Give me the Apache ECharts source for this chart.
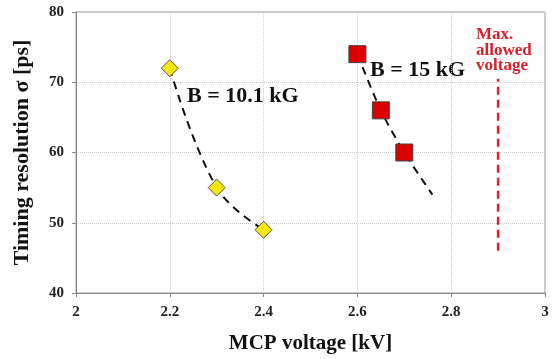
<!DOCTYPE html>
<html>
<head>
    <meta charset="utf-8">
    <title>MCP timing resolution</title>
    <script src="https://cdn.jsdelivr.net/npm/echarts@6/dist/echarts.min.js"></script>
</head>
<body style="margin: 0;height:100%;">
<div id="main" style="width: 556px;height: 359px;"></div>
<script type="text/javascript">
    // measured points
    var voltsLow = [2.2, 2.3, 2.4];
    var sigmaLow = [72, 55, 49];
    var voltsHigh = [2.6, 2.65, 2.7];
    var sigmaHigh = [74, 66, 60];
    // hand drawn trend curves
    var trendLowX = [2.2, 2.3, 2.4];
    var trendLowY = [72, 55, 49];
    var trendHighX = [2.6, 2.65, 2.7, 2.76];
    var trendHighY = [74, 66, 60, 54];
    // max allowed voltage marker
    var maxVolt = 2.9;
    var maxLineY = [46, 70.5];

    function pairs(xs, ys) {
        return xs.map(function (x, i) { return [x, ys[i]]; });
    }

    var font = '"Liberation Serif", "Times New Roman", serif';
    var myChart = echarts.init(document.getElementById('main'));
    var option = {
        animation: false,
        backgroundColor: '#fff',
        textStyle: {fontFamily: font},
        grid: {
            left: 76, right: 11, top: 12, bottom: 64,
            show: true, borderColor: '#999', borderWidth: 1
        },
        xAxis: {
            type: 'value', min: 2, max: 3, interval: 0.2,
            name: 'MCP voltage [kV]', nameLocation: 'middle', nameGap: 40,
            nameTextStyle: {fontFamily: font, fontWeight: 'bold', fontSize: 21, color: '#111'},
            axisLine: {lineStyle: {color: '#888'}},
            axisTick: {show: true, length: 4, lineStyle: {color: '#888'}},
            axisLabel: {fontFamily: font, fontWeight: 'bold', fontSize: 15, color: '#222', margin: 12},
            splitLine: {lineStyle: {color: '#ccc', type: 'dotted'}}
        },
        yAxis: {
            type: 'value', min: 40, max: 80, interval: 10,
            name: 'Timing resolution σ [ps]', nameLocation: 'middle', nameGap: 43,
            nameTextStyle: {fontFamily: font, fontWeight: 'bold', fontSize: 22, color: '#111'},
            axisLine: {show: true, lineStyle: {color: '#888'}},
            axisTick: {show: true, length: 4, lineStyle: {color: '#888'}},
            axisLabel: {fontFamily: font, fontWeight: 'bold', fontSize: 15, color: '#222', margin: 12},
            splitLine: {lineStyle: {color: '#ccc', type: 'dotted'}}
        },
        series: [
            {
                type: 'line', data: pairs(trendLowX, trendLowY), smooth: 0.4,
                symbol: 'none', lineStyle: {color: '#111', width: 2, type: [8, 6]}, z: 1
            },
            {
                type: 'line', data: pairs(trendHighX, trendHighY), smooth: 0.3,
                symbol: 'none', lineStyle: {color: '#111', width: 2, type: [8, 6]}, z: 1
            },
            {
                type: 'line', data: [[maxVolt, maxLineY[0]], [maxVolt, maxLineY[1]]],
                symbol: 'none', lineStyle: {color: '#e0202a', width: 2.5, type: [8, 5]}, z: 1
            },
            {
                type: 'scatter', data: pairs(voltsLow, sigmaLow), symbol: 'diamond', symbolSize: 17,
                itemStyle: {color: '#f5e60c', borderColor: '#555', borderWidth: 1, opacity: 1}, z: 3
            },
            {
                type: 'scatter', data: pairs(voltsHigh, sigmaHigh), symbol: 'rect', symbolSize: 17,
                itemStyle: {color: '#dd0000', borderColor: '#444', borderWidth: 1, opacity: 1}, z: 3
            }
        ],
        graphic: [
            {type: 'text', left: 187, top: 85, style: {text: 'B = 10.1 kG', font: 'bold 22px ' + font, fill: '#111'}},
            {type: 'text', left: 370, top: 59, style: {text: 'B = 15 kG', font: 'bold 22px ' + font, fill: '#111'}},
            {type: 'text', x: 476, y: 27, style: {
                text: 'Max.\nallowed\nvoltage', font: 'bold 17px ' + font, fill: '#d8202a',
                align: 'left', lineHeight: 15.5
            }}
        ]
    };
    myChart.setOption(option);
</script>
</body>
</html>
